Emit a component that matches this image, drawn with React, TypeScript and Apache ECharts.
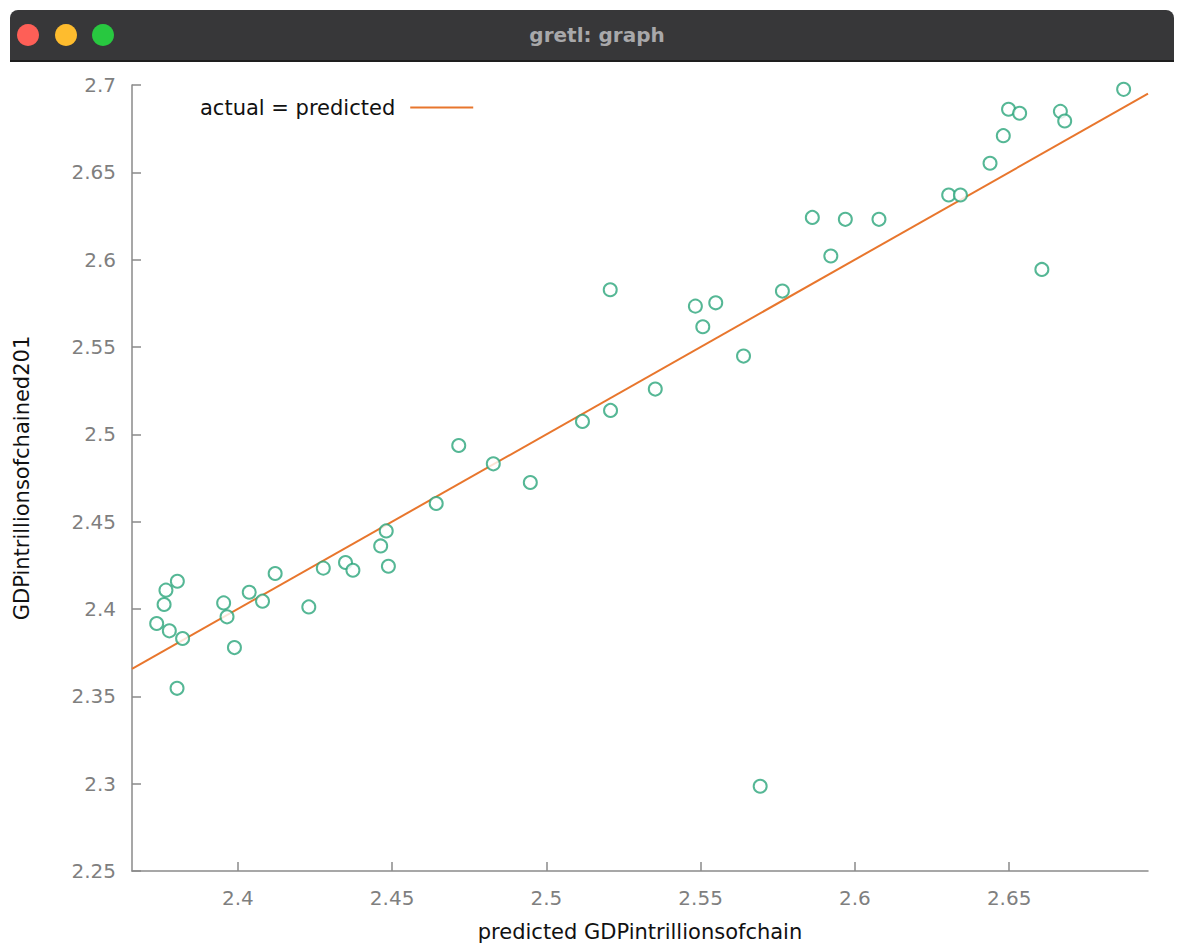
import React, { useEffect, useRef } from "react";
import * as echarts from "echarts";

const predicted = [
  2.3737, 2.3761, 2.3767, 2.3804, 2.3778, 2.3821, 2.3803, 2.3954, 2.3965, 2.3989,
  2.4037, 2.408, 2.4121, 2.423, 2.4277, 2.4349, 2.4373, 2.4463, 2.4481, 2.4488,
  2.4643, 2.4716, 2.4828, 2.4948, 2.5117, 2.5208, 2.5207, 2.5353, 2.5483, 2.5507,
  2.5549, 2.5639, 2.5693, 2.5765, 2.5862, 2.5922, 2.5969, 2.6078, 2.6304, 2.6342,
  2.6438, 2.6481, 2.6498, 2.6534, 2.6606, 2.6666, 2.668, 2.6871,
];
const actual = [
  2.3917, 2.4026, 2.4108, 2.4159, 2.3875, 2.3831, 2.3546, 2.4035, 2.3955, 2.3779,
  2.4096, 2.4045, 2.4203, 2.4012, 2.4234, 2.4266, 2.4222, 2.4361, 2.4447, 2.4245,
  2.4604, 2.4936, 2.4831, 2.4724, 2.5074, 2.5137, 2.5828, 2.5259, 2.5734, 2.5616,
  2.5753, 2.5448, 2.2985, 2.582, 2.6242, 2.6021, 2.6231, 2.6231, 2.637, 2.637,
  2.6552, 2.671, 2.6861, 2.6838, 2.5944, 2.6849, 2.6794, 2.6975,
];
const xTicks = [2.4, 2.45, 2.5, 2.55, 2.6, 2.65];
const xMin = 2.3657;
const xMax = 2.695;
const yMin = 2.25;
const yMax = 2.7;
const yStep = 0.05;

const windowTitle = "gretl: graph";
const xName = "predicted GDPintrillionsofchain";
const yName = "GDPintrillionsofchained201";
const lineName = "actual = predicted";

export default function App() {
  const ref = useRef<HTMLDivElement>(null);
  useEffect(() => {
    if (!ref.current) return;
    const chart = echarts.init(ref.current, undefined, { renderer: "svg" });
    const font = "'DejaVu Sans', Verdana, sans-serif";
    const axisGray = "#8a8a8a";
    chart.setOption({
      animation: false,
      backgroundColor: "#ffffff",
      textStyle: { fontFamily: font },
      graphic: [
        {
          type: "rect",
          shape: { x: 10, y: 10, width: 1164, height: 51, r: [8, 8, 0, 0] },
          style: { fill: "#373739" },
          z: 100,
        },
        {
          type: "rect",
          shape: { x: 10, y: 60, width: 1164, height: 2 },
          style: { fill: "#1e1e1e" },
          z: 100,
        },
        { type: "circle", shape: { cx: 28, cy: 35, r: 11 }, style: { fill: "#fe5f57" }, z: 101 },
        { type: "circle", shape: { cx: 66, cy: 35, r: 11 }, style: { fill: "#febc2e" }, z: 101 },
        { type: "circle", shape: { cx: 103, cy: 35, r: 11 }, style: { fill: "#28c840" }, z: 101 },
        {
          type: "text",
          x: 597,
          y: 35,
          style: {
            text: windowTitle,
            fill: "#a8a8aa",
            font: `bold 20px ${font}`,
            align: "center",
            verticalAlign: "middle",
          },
          z: 101,
        },
      ],
      grid: { left: 132, right: 36, top: 85, bottom: 75, containLabel: false, outerBoundsMode: "none" },
      legend: {
        show: true,
        left: 200,
        top: 97,
        padding: 0,
        align: "right",
        icon: "rect",
        itemWidth: 63,
        itemHeight: 2,
        textStyle: { fontSize: 21, color: "#111", fontFamily: font, padding: [0, 10, 0, 0] },
        data: [{ name: lineName, itemStyle: { color: "#e8762d" } }],
      },
      xAxis: {
        type: "value",
        min: xMin,
        max: xMax,
        name: xName,
        nameLocation: "middle",
        nameGap: 50,
        nameTextStyle: { fontSize: 21, color: "#111", fontFamily: font },
        axisLine: { show: true, lineStyle: { color: axisGray, width: 1.5 } },
        axisTick: { show: true, inside: true, length: 9, customValues: xTicks, lineStyle: { color: axisGray, width: 1.5 } },
        axisLabel: { customValues: xTicks, color: "#7f7f7f", fontSize: 20, margin: 17, fontFamily: font },
        splitLine: { show: false },
      },
      yAxis: {
        type: "value",
        min: yMin,
        max: yMax,
        interval: yStep,
        name: yName,
        nameLocation: "middle",
        nameGap: 100,
        nameRotate: 90,
        nameTextStyle: { fontSize: 21, color: "#111", fontFamily: font },
        axisLine: { show: true, lineStyle: { color: axisGray, width: 1.5 } },
        axisTick: { show: true, inside: true, length: 9, lineStyle: { color: axisGray, width: 1.5 } },
        axisLabel: { color: "#7f7f7f", fontSize: 20, margin: 16, fontFamily: font },
        splitLine: { show: false },
      },
      series: [
        {
          type: "scatter",
          name: "points",
          data: predicted.map((p, i) => [p, actual[i]]),
          symbol: "emptyCircle",
          symbolSize: 13,
          itemStyle: { color: "#2aa57a", borderColor: "#2aa57a", borderWidth: 2 },
          z: 3,
        },
        {
          type: "line",
          name: lineName,
          data: [
            [xMin, xMin],
            [xMax, xMax],
          ],
          symbol: "none",
          lineStyle: { color: "#e8762d", width: 2 },
          itemStyle: { color: "#e8762d" },
          z: 2,
        },
      ],
    });
    return () => chart.dispose();
  }, []);
  return (
    <div
      ref={ref}
      style={{ position: "fixed", left: 0, top: 0, width: 1184, height: 946, background: "#fff" }}
    />
  );
}
